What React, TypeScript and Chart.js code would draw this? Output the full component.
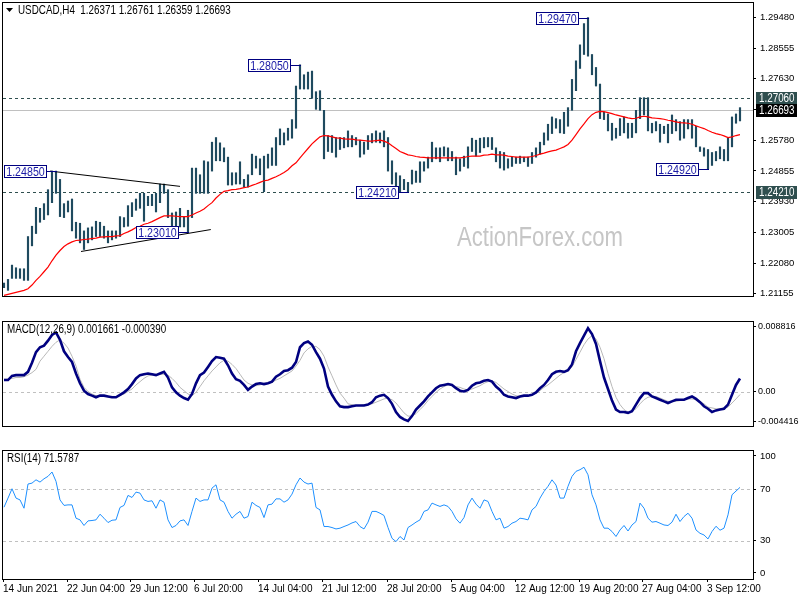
import React, { useEffect, useRef } from 'react';
import { Chart, registerables } from 'chart.js';
Chart.register(...registerables);

// ---------------- data (H4 bars grouped in pairs) ----------------
const highs = [
  1.2148, 1.2159, 1.2202, 1.2194, 1.2191, 1.2191, 1.2288, 1.2319, 1.2376, 1.2373,
  1.2387, 1.2429, 1.2485, 1.2485, 1.2460, 1.2387, 1.2395, 1.2401, 1.2331, 1.2328,
  1.2305, 1.2314, 1.2317, 1.2334, 1.2331, 1.2319, 1.2305, 1.2305, 1.2305, 1.2348,
  1.2345, 1.2381, 1.2390, 1.2401, 1.2418, 1.2418, 1.2409, 1.2415, 1.2418, 1.2446,
  1.2446, 1.2429, 1.2359, 1.2362, 1.2373, 1.2348, 1.2367, 1.2494, 1.2494, 1.2474,
  1.2516, 1.2513, 1.2572, 1.2586, 1.2570, 1.2555, 1.2527, 1.2480, 1.2480, 1.2513,
  1.2460, 1.2474, 1.2536, 1.2530, 1.2522, 1.2530, 1.2536, 1.2555, 1.2586, 1.2612,
  1.2600, 1.2614, 1.2640, 1.2741, 1.2805, 1.2775, 1.2783, 1.2786, 1.2724, 1.2727,
  1.2668, 1.2592, 1.2592, 1.2586, 1.2586, 1.2586, 1.2606, 1.2592, 1.2586, 1.2578,
  1.2572, 1.2592, 1.2598, 1.2606, 1.2600, 1.2606, 1.2586, 1.2516, 1.2480, 1.2471,
  1.2460, 1.2451, 1.2488, 1.2485, 1.2513, 1.2513, 1.2527, 1.2572, 1.2555, 1.2555,
  1.2558, 1.2555, 1.2544, 1.2527, 1.2522, 1.2530, 1.2558, 1.2584, 1.2578, 1.2584,
  1.2586, 1.2586, 1.2586, 1.2555, 1.2544, 1.2541, 1.2522, 1.2527, 1.2527, 1.2530,
  1.2527, 1.2527, 1.2541, 1.2555, 1.2572, 1.2600, 1.2626, 1.2648, 1.2643, 1.2640,
  1.2662, 1.2676, 1.2761, 1.2817, 1.2865, 1.2929, 1.2947, 1.2836, 1.2797, 1.2747,
  1.2662, 1.2657, 1.2629, 1.2614, 1.2643, 1.2648, 1.2629, 1.2629, 1.2668, 1.2706,
  1.2706, 1.2706, 1.2629, 1.2634, 1.2626, 1.2620, 1.2626, 1.2654, 1.2640, 1.2634,
  1.2640, 1.2640, 1.2640, 1.2620, 1.2558, 1.2555, 1.2550, 1.2541, 1.2544, 1.2558,
  1.2550, 1.2586, 1.2648, 1.2657, 1.2676,
];
const lows = [
  1.2134, 1.2126, 1.2162, 1.2162, 1.2162, 1.2156, 1.2156, 1.2260, 1.2297, 1.2331,
  1.2339, 1.2353, 1.2390, 1.2418, 1.2348, 1.2345, 1.2362, 1.2305, 1.2283, 1.2269,
  1.2249, 1.2269, 1.2278, 1.2288, 1.2288, 1.2283, 1.2269, 1.2278, 1.2283, 1.2288,
  1.2317, 1.2319, 1.2348, 1.2367, 1.2373, 1.2334, 1.2381, 1.2381, 1.2362, 1.2390,
  1.2418, 1.2345, 1.2297, 1.2319, 1.2317, 1.2317, 1.2301, 1.2345, 1.2418, 1.2418,
  1.2418, 1.2418, 1.2485, 1.2516, 1.2516, 1.2513, 1.2443, 1.2443, 1.2446, 1.2446,
  1.2437, 1.2437, 1.2474, 1.2494, 1.2474, 1.2423, 1.2494, 1.2502, 1.2502, 1.2564,
  1.2564, 1.2578, 1.2584, 1.2614, 1.2732, 1.2732, 1.2732, 1.2704, 1.2671, 1.2668,
  1.2522, 1.2544, 1.2541, 1.2527, 1.2550, 1.2555, 1.2558, 1.2558, 1.2564, 1.2527,
  1.2536, 1.2550, 1.2570, 1.2572, 1.2570, 1.2558, 1.2485, 1.2446, 1.2429, 1.2423,
  1.2429, 1.2421, 1.2446, 1.2451, 1.2451, 1.2485, 1.2494, 1.2513, 1.2522, 1.2513,
  1.2530, 1.2516, 1.2516, 1.2474, 1.2485, 1.2499, 1.2494, 1.2544, 1.2530, 1.2541,
  1.2555, 1.2558, 1.2550, 1.2513, 1.2494, 1.2488, 1.2494, 1.2499, 1.2508, 1.2508,
  1.2513, 1.2499, 1.2508, 1.2527, 1.2536, 1.2564, 1.2578, 1.2598, 1.2614, 1.2600,
  1.2598, 1.2620, 1.2668, 1.2727, 1.2794, 1.2836, 1.2831, 1.2775, 1.2741, 1.2643,
  1.2640, 1.2606, 1.2578, 1.2584, 1.2592, 1.2600, 1.2584, 1.2586, 1.2600, 1.2643,
  1.2654, 1.2606, 1.2600, 1.2606, 1.2572, 1.2598, 1.2570, 1.2598, 1.2606, 1.2578,
  1.2584, 1.2612, 1.2584, 1.2558, 1.2544, 1.2530, 1.2492, 1.2502, 1.2516, 1.2522,
  1.2516, 1.2516, 1.2558, 1.2629, 1.2636,
];
const movingAverage = [
  1.2111, 1.2114, 1.2117, 1.2120, 1.2123, 1.2126, 1.2131, 1.2142, 1.2156, 1.2168,
  1.2182, 1.2196, 1.2215, 1.2232, 1.2246, 1.2258, 1.2266, 1.2272, 1.2276, 1.2277,
  1.2279, 1.2280, 1.2282, 1.2283, 1.2286, 1.2287, 1.2288, 1.2288, 1.2290, 1.2291,
  1.2297, 1.2302, 1.2308, 1.2315, 1.2319, 1.2325, 1.2328, 1.2333, 1.2339, 1.2345,
  1.2350, 1.2350, 1.2350, 1.2349, 1.2348, 1.2348, 1.2348, 1.2353, 1.2359, 1.2364,
  1.2371, 1.2381, 1.2390, 1.2404, 1.2415, 1.2424, 1.2426, 1.2429, 1.2430, 1.2432,
  1.2435, 1.2437, 1.2442, 1.2446, 1.2451, 1.2456, 1.2458, 1.2463, 1.2468, 1.2474,
  1.2481, 1.2489, 1.2501, 1.2510, 1.2525, 1.2539, 1.2553, 1.2567, 1.2578, 1.2588,
  1.2592, 1.2591, 1.2588, 1.2585, 1.2584, 1.2582, 1.2581, 1.2581, 1.2579, 1.2578,
  1.2577, 1.2575, 1.2575, 1.2577, 1.2578, 1.2575, 1.2570, 1.2561, 1.2553, 1.2544,
  1.2539, 1.2534, 1.2532, 1.2529, 1.2527, 1.2526, 1.2525, 1.2525, 1.2525, 1.2525,
  1.2525, 1.2525, 1.2525, 1.2525, 1.2525, 1.2526, 1.2529, 1.2530, 1.2530, 1.2530,
  1.2533, 1.2534, 1.2536, 1.2534, 1.2534, 1.2533, 1.2530, 1.2529, 1.2527, 1.2527,
  1.2527, 1.2527, 1.2529, 1.2532, 1.2536, 1.2539, 1.2543, 1.2546, 1.2548, 1.2553,
  1.2558, 1.2565, 1.2578, 1.2595, 1.2612, 1.2627, 1.2643, 1.2655, 1.2662, 1.2665,
  1.2664, 1.2661, 1.2658, 1.2654, 1.2651, 1.2648, 1.2645, 1.2643, 1.2644, 1.2648,
  1.2650, 1.2648, 1.2645, 1.2644, 1.2643, 1.2641, 1.2638, 1.2636, 1.2633, 1.2631,
  1.2630, 1.2629, 1.2626, 1.2621, 1.2617, 1.2613, 1.2607, 1.2602, 1.2598, 1.2595,
  1.2591, 1.2586, 1.2588, 1.2592, 1.2595,
];
const macdMain = [
  0.00147, 0.00147, 0.00200, 0.00210, 0.00210, 0.00210, 0.00252, 0.00368, 0.00504, 0.00567,
  0.00588, 0.00651, 0.00725, 0.00756, 0.00662, 0.00515, 0.00441, 0.00378, 0.00231, 0.00105,
  0.00011, -0.00032, -0.00053, -0.00074, -0.00053, -0.00053, -0.00063, -0.00074, -0.00074, -0.00042,
  -0.00011, 0.00032, 0.00095, 0.00168, 0.00210, 0.00221, 0.00231, 0.00221, 0.00210, 0.00231,
  0.00252, 0.00179, 0.00053, -0.00011, -0.00053, -0.00084, -0.00105, -0.00032, 0.00105, 0.00210,
  0.00242, 0.00315, 0.00389, 0.00441, 0.00431, 0.00420, 0.00336, 0.00231, 0.00158, 0.00137,
  0.00084, 0.00021, 0.00063, 0.00095, 0.00105, 0.00095, 0.00105, 0.00126, 0.00189, 0.00221,
  0.00263, 0.00273, 0.00305, 0.00378, 0.00567, 0.00620, 0.00641, 0.00599, 0.00504, 0.00420,
  0.00294, 0.00063, -0.00042, -0.00126, -0.00189, -0.00200, -0.00200, -0.00189, -0.00179, -0.00179,
  -0.00179, -0.00168, -0.00137, -0.00074, -0.00053, -0.00042, -0.00084, -0.00158, -0.00263, -0.00326,
  -0.00357, -0.00378, -0.00315, -0.00231, -0.00179, -0.00126, -0.00063, -0.00011, 0.00042, 0.00074,
  0.00084, 0.00095, 0.00084, 0.00042, 0.00011, 0.00000, 0.00021, 0.00074, 0.00105, 0.00116,
  0.00137, 0.00147, 0.00126, 0.00063, 0.00021, -0.00042, -0.00063, -0.00074, -0.00084, -0.00063,
  -0.00053, -0.00053, -0.00042, -0.00011, 0.00042, 0.00084, 0.00147, 0.00221, 0.00252, 0.00263,
  0.00252, 0.00273, 0.00347, 0.00515, 0.00620, 0.00714, 0.00810, 0.00735, 0.00609, 0.00389,
  0.00179, 0.00032, -0.00116, -0.00231, -0.00263, -0.00263, -0.00273, -0.00252, -0.00168, -0.00084,
  -0.00021, -0.00021, -0.00063, -0.00084, -0.00105, -0.00126, -0.00147, -0.00126, -0.00105, -0.00105,
  -0.00105, -0.00084, -0.00063, -0.00095, -0.00137, -0.00189, -0.00221, -0.00263, -0.00242, -0.00231,
  -0.00221, -0.00168, -0.00042, 0.00084, 0.00166,
];
const macdSignal = [
  0.00158, 0.00158, 0.00168, 0.00179, 0.00179, 0.00189, 0.00210, 0.00242, 0.00284, 0.00389,
  0.00452, 0.00515, 0.00578, 0.00630, 0.00662, 0.00620, 0.00557, 0.00452, 0.00326, 0.00158,
  0.00053, 0.00000, -0.00032, -0.00053, -0.00053, -0.00063, -0.00063, -0.00063, -0.00063, -0.00053,
  -0.00032, 0.00000, 0.00032, 0.00084, 0.00126, 0.00168, 0.00200, 0.00210, 0.00221, 0.00221,
  0.00221, 0.00210, 0.00168, 0.00116, 0.00053, 0.00011, -0.00032, -0.00053, -0.00011, 0.00063,
  0.00137, 0.00200, 0.00263, 0.00315, 0.00368, 0.00399, 0.00389, 0.00347, 0.00294, 0.00221,
  0.00147, 0.00105, 0.00084, 0.00074, 0.00084, 0.00105, 0.00105, 0.00116, 0.00147, 0.00168,
  0.00200, 0.00231, 0.00263, 0.00326, 0.00399, 0.00494, 0.00546, 0.00578, 0.00578, 0.00536,
  0.00452, 0.00315, 0.00200, 0.00084, -0.00021, -0.00084, -0.00158, -0.00168, -0.00179, -0.00179,
  -0.00168, -0.00168, -0.00158, -0.00137, -0.00116, -0.00095, -0.00084, -0.00105, -0.00147, -0.00210,
  -0.00273, -0.00315, -0.00315, -0.00284, -0.00231, -0.00179, -0.00116, -0.00063, -0.00011, 0.00032,
  0.00063, 0.00084, 0.00084, 0.00063, 0.00053, 0.00032, 0.00021, 0.00032, 0.00053, 0.00074,
  0.00105, 0.00126, 0.00137, 0.00116, 0.00074, 0.00032, 0.00000, -0.00032, -0.00053, -0.00063,
  -0.00063, -0.00053, -0.00042, -0.00021, 0.00011, 0.00053, 0.00084, 0.00126, 0.00168, 0.00210,
  0.00242, 0.00263, 0.00315, 0.00410, 0.00504, 0.00599, 0.00672, 0.00714, 0.00672, 0.00567,
  0.00420, 0.00231, 0.00063, -0.00074, -0.00168, -0.00231, -0.00263, -0.00252, -0.00221, -0.00158,
  -0.00105, -0.00074, -0.00063, -0.00063, -0.00084, -0.00105, -0.00126, -0.00126, -0.00126, -0.00116,
  -0.00105, -0.00095, -0.00095, -0.00105, -0.00126, -0.00158, -0.00200, -0.00210, -0.00221, -0.00221,
  -0.00210, -0.00200, -0.00147, -0.00095, -0.00039,
];
const rsiValues = [
  56.1, 63.2, 70.5, 63.2, 61.8, 55.3, 74.2, 74.9, 77.5, 75.7,
  78.3, 80.2, 83.6, 76.3, 61.8, 57.5, 57.9, 57.9, 47.5, 46.2,
  41.8, 45.4, 45.7, 46.2, 50.6, 47.5, 44.1, 45.9, 46.2, 55.9,
  57.5, 65.3, 63.7, 67.9, 67.1, 61.8, 60.6, 61.1, 55.3, 61.8,
  60.0, 46.2, 40.2, 41.8, 45.4, 46.2, 41.8, 52.8, 63.2, 60.6,
  61.8, 61.8, 71.0, 73.6, 61.8, 60.0, 52.8, 47.5, 50.6, 52.8,
  47.5, 48.8, 60.0, 57.5, 55.9, 48.0, 57.9, 58.5, 62.6, 62.6,
  60.0, 61.8, 66.3, 73.6, 78.9, 75.7, 74.2, 74.9, 55.9, 54.0,
  41.0, 41.0, 40.2, 39.1, 39.7, 41.0, 42.2, 43.8, 44.9, 41.0,
  39.1, 44.4, 52.8, 52.8, 51.4, 49.6, 40.2, 31.8, 29.2, 33.2,
  30.5, 40.2, 42.2, 44.4, 46.2, 52.8, 54.0, 59.3, 57.9, 56.7,
  57.9, 56.7, 52.8, 47.0, 43.6, 48.0, 57.9, 63.2, 58.5, 55.3,
  61.8, 60.6, 52.8, 46.2, 47.5, 39.7, 41.0, 43.6, 44.9, 47.5,
  47.0, 46.2, 54.0, 56.7, 63.2, 68.4, 72.4, 77.5, 73.4, 63.2,
  63.2, 72.4, 80.2, 84.1, 85.4, 87.3, 81.4, 65.8, 57.9, 46.2,
  39.7, 39.7, 37.1, 33.2, 38.3, 41.8, 37.5, 42.2, 44.9, 59.3,
  55.3, 47.5, 44.4, 44.9, 43.6, 42.2, 41.8, 44.4, 50.6, 44.9,
  48.8, 51.4, 47.5, 38.3, 35.7, 34.4, 31.3, 37.1, 41.2, 38.1,
  39.7, 50.1, 65.8, 68.7, 71.58,
];

// time axis labels (positions in bar-index units)
const dateTickIndex = [-0.25, 15.75, 31.5, 47.5, 63.5, 79.5, 95.75, 111.75, 127.75, 143.75, 159.5, 175.75];
const dateTickLabels = ['14 Jun 2021', '22 Jun 04:00', '29 Jun 12:00', '6 Jul 20:00', '14 Jul 04:00', '21 Jul 12:00',
  '28 Jul 20:00', '5 Aug 04:00', '12 Aug 12:00', '19 Aug 20:00', '27 Aug 04:00', '3 Sep 12:00'];

// price axis
const priceTicks = [1.21155, 1.2208, 1.23005, 1.2393, 1.24855, 1.2578, 1.26705, 1.2763, 1.28555, 1.2948];
const dashedLevels = [1.2706, 1.2421];
const lastPrice = 1.26693;
const axisMarkValues = [1.2706, 1.26693, 1.2421];
const axisMarkLabels = ['1.27060', '1.26693', '1.24210'];
const axisMarkColors = ['#2f4f4f', '#000000', '#2f4f4f'];

// swing high/low labels
const swingIndex = [13, 46, 74, 101, 146, 176];
const swingPrice = [1.2485, 1.2301, 1.2805, 1.2421, 1.2947, 1.2492];
const swingLabels = ['1.24850', '1.23010', '1.28050', '1.24210', '1.29470', '1.24920'];

// triangle trend lines
const trendUpperIndex = [11.5, 44];
const trendUpperPrice = [1.2485, 1.2439];
const trendLowerIndex = [19.25, 51.7];
const trendLowerPrice = [1.2243, 1.2309];

// indicator axes
const macdTickValues = [0.00837, 0, -0.00378];
const macdTickLabels = ['0.008816', '0.00', '-0.004416'];
const rsiTickValues = [96.1, 70, 30, 4.7];
const rsiTickLabels = ['100', '70', '30', '0'];
const rsiLevels = [70, 30];

const TITLE = 'USDCAD,H4  1.26371 1.26761 1.26359 1.26693';
const MACD_TITLE = 'MACD(12,26,9) 0.001661 -0.000390';
const RSI_TITLE = 'RSI(14) 71.5787';
const WATERMARK = 'ActionForex.com';

// ---------------- styling ----------------
const FONT = "'Liberation Sans', Arial, sans-serif";
const xTickFont = { family: FONT, size: 10 };
const BAR_COLOR = '#1f4a5f';
const NARROW = 0.82;

const X_MIN = -0.25;
const X_MAX = 187.25;

function narrowText(ctx: any, text: string, x: number, y: number, size: number, align: string, color: string) {
  ctx.save();
  ctx.translate(x, y);
  ctx.scale(NARROW, 1);
  ctx.font = `${size}px ${FONT}`;
  ctx.textAlign = align;
  ctx.textBaseline = 'middle';
  ctx.fillStyle = color;
  ctx.fillText(text, 0, 0);
  ctx.restore();
}

function makeX(show: boolean): any {
  return {
    type: 'linear',
    min: X_MIN,
    max: X_MAX,
    offset: false,
    bounds: 'data',
    display: show,
    afterBuildTicks: (s: any) => { s.ticks = dateTickIndex.map((v) => ({ value: v })); },
    ticks: {
      autoSkip: false, maxRotation: 0, minRotation: 0, align: 'start', padding: 1,
      color: '#000', font: xTickFont,
      callback: (_v: any, i: number) => dateTickLabels[i],
    },
    grid: { display: show, drawOnChartArea: false, drawTicks: true, tickLength: 3, color: '#000', offset: false },
    border: { display: false },
    afterFit: (s: any) => { s.height = 21; s.paddingLeft = 0; s.paddingRight = 0; },
  };
}

function makeY(min: number, max: number, values: number[], label: (v: number, i: number) => string, size: number, pad: number): any {
  return {
    type: 'linear',
    position: 'right',
    min, max,
    bounds: 'data',
    afterBuildTicks: (s: any) => { s.ticks = values.map((v) => ({ value: v })); },
    ticks: { autoSkip: false, padding: pad, color: '#000', font: { family: FONT, size }, callback: (v: any, i: number) => label(v, i) },
    grid: { drawOnChartArea: false, drawTicks: true, tickLength: 3, color: '#000' },
    border: { display: false },
    afterFit: (s: any) => { s.width = 47; s.paddingTop = 0; s.paddingBottom = 0; },
  };
}

function drawFrame(chart: any) {
  const { ctx, chartArea: a } = chart;
  ctx.save();
  ctx.strokeStyle = '#000';
  ctx.lineWidth = 1;
  ctx.strokeRect(a.left - 0.5, a.top - 0.5, a.right - a.left + 1, a.bottom - a.top + 1);
  ctx.restore();
}

function hLine(ctx: any, a: any, y: number, color: string, dash: number[]) {
  const yy = Math.round(y) + 0.5;
  ctx.save();
  ctx.strokeStyle = color;
  ctx.lineWidth = 1;
  ctx.setLineDash(dash);
  ctx.beginPath();
  ctx.moveTo(a.left, yy);
  ctx.lineTo(a.right, yy);
  ctx.stroke();
  ctx.restore();
}

const commonOpts: any = {
  animation: false,
  responsive: false,
  maintainAspectRatio: false,
  events: [],
  plugins: { legend: { display: false }, tooltip: { enabled: false } },
};

const mainPlugin = {
  id: 'mainDecor',
  beforeDatasetsDraw(chart: any) {
    const { ctx, chartArea: a, scales } = chart;
    ctx.save();
    ctx.beginPath();
    ctx.rect(a.left, a.top, a.right - a.left, a.bottom - a.top);
    ctx.clip();
    narrowText(ctx, WATERMARK, a.left + (a.right - a.left) * 0.716, a.top + (a.bottom - a.top) * 0.803, 27, 'center', '#c6c6c6');
    ctx.restore();
    hLine(ctx, a, scales.y.getPixelForValue(lastPrice), '#c0c0c0', []);
    dashedLevels.forEach((lv) => hLine(ctx, a, scales.y.getPixelForValue(lv), '#2f4f4f', [3, 3]));
  },
  afterDatasetsDraw(chart: any) {
    const { ctx, scales } = chart;
    ctx.save();
    swingIndex.forEach((idx, k) => {
      const bx = Math.round(scales.x.getPixelForValue(idx));
      const by = Math.round(scales.y.getPixelForValue(swingPrice[k]));
      const w = 43;
      const h = 13;
      const right = bx - 9;
      const left = right - w;
      const top = by - 6;
      ctx.fillStyle = '#ffffff';
      ctx.fillRect(left, top, w, h);
      ctx.strokeStyle = '#000080';
      ctx.lineWidth = 1;
      ctx.strokeRect(left + 0.5, top + 0.5, w - 1, h - 1);
      ctx.beginPath();
      ctx.moveTo(right, by + 0.5);
      ctx.lineTo(bx + 1, by + 0.5);
      ctx.stroke();
      narrowText(ctx, swingLabels[k], left + w / 2, top + h / 2 + 0.5, 13, 'center', '#1a1aa6');
    });
    // title
    narrowText(ctx, TITLE, 18, 10.5, 12, 'left', '#000');
    ctx.fillStyle = '#000';
    ctx.beginPath();
    ctx.moveTo(6, 8);
    ctx.lineTo(13, 8);
    ctx.lineTo(9.5, 12);
    ctx.closePath();
    ctx.fill();
    ctx.restore();
  },
  afterDraw(chart: any) {
    drawFrame(chart);
    const { ctx, chartArea: a, scales } = chart;
    ctx.save();
    axisMarkValues.forEach((v, k) => {
      const y = Math.round(scales.y.getPixelForValue(v));
      ctx.fillStyle = axisMarkColors[k];
      ctx.fillRect(a.right + 3, y - 6, 41, 13);
      narrowText(ctx, axisMarkLabels[k], a.right + 6, y + 1, 12, 'left', '#ffffff');
    });
    ctx.restore();
  },
};

const macdPlugin = {
  id: 'macdDecor',
  beforeDatasetsDraw(chart: any) {
    const { ctx, chartArea: a, scales } = chart;
    hLine(ctx, a, scales.y.getPixelForValue(0), '#c0c0c0', [3, 3]);
  },
  afterDatasetsDraw(chart: any) {
    narrowText(chart.ctx, MACD_TITLE, 7, 11, 12, 'left', '#000');
  },
  afterDraw(chart: any) { drawFrame(chart); },
};

const rsiPlugin = {
  id: 'rsiDecor',
  beforeDatasetsDraw(chart: any) {
    const { ctx, chartArea: a, scales } = chart;
    rsiLevels.forEach((lv) => hLine(ctx, a, scales.y.getPixelForValue(lv), '#c0c0c0', [3, 3]));
  },
  afterDatasetsDraw(chart: any) {
    narrowText(chart.ctx, RSI_TITLE, 7, 11, 12, 'left', '#000');
  },
  afterDraw(chart: any) { drawFrame(chart); },
};

export default function App() {
  const mainRef = useRef<HTMLCanvasElement | null>(null);
  const macdRef = useRef<HTMLCanvasElement | null>(null);
  const rsiRef = useRef<HTMLCanvasElement | null>(null);

  useEffect(() => {
    Chart.defaults.font.family = FONT;
    Chart.defaults.font.size = 10;

    const mainChart = new Chart(mainRef.current as HTMLCanvasElement, {
      type: 'bar',
      data: {
        datasets: [
          {
            type: 'line',
            data: movingAverage.map((v, i) => ({ x: i, y: v })),
            borderColor: '#ff0000',
            borderWidth: 1.2,
            pointRadius: 0,
            tension: 0,
            order: 0,
          } as any,
          {
            type: 'line',
            data: trendUpperIndex.map((x, i) => ({ x, y: trendUpperPrice[i] })),
            borderColor: '#000000',
            borderWidth: 1,
            pointRadius: 0,
            order: 0,
          } as any,
          {
            type: 'line',
            data: trendLowerIndex.map((x, i) => ({ x, y: trendLowerPrice[i] })),
            borderColor: '#000000',
            borderWidth: 1,
            pointRadius: 0,
            order: 0,
          } as any,
          {
            type: 'bar',
            data: highs.map((h, i) => ({ x: i, y: [lows[i], h] })),
            backgroundColor: BAR_COLOR,
            borderWidth: 0,
            barThickness: 1.5,
            grouped: false,
            order: 1,
          } as any,
        ],
      },
      options: {
        ...commonOpts,
        layout: { padding: { left: 3, top: 3, bottom: 2, right: 0 } },
        scales: {
          x: makeX(false),
          y: makeY(1.2109, 1.2991, priceTicks, (v) => Number(v).toFixed(5), 9.5, 4),
        },
      },
      plugins: [mainPlugin],
    } as any);

    const macdChart = new Chart(macdRef.current as HTMLCanvasElement, {
      type: 'line',
      data: {
        datasets: [
          {
            data: macdMain.map((v, i) => ({ x: i, y: v })),
            borderColor: '#000080',
            borderWidth: 2.6,
            pointRadius: 0,
            tension: 0,
            order: 0,
          },
          {
            data: macdSignal.map((v, i) => ({ x: i, y: v })),
            borderColor: '#b8b8b8',
            borderWidth: 1,
            pointRadius: 0,
            tension: 0,
            order: 1,
          },
        ],
      },
      options: {
        ...commonOpts,
        layout: { padding: { left: 3, top: 3, bottom: 1, right: 0 } },
        scales: {
          x: makeX(false),
          y: makeY(-0.004416, 0.0089, macdTickValues, (_v, i) => macdTickLabels[i], 9, 2),
        },
      },
      plugins: [macdPlugin],
    } as any);

    const rsiChart = new Chart(rsiRef.current as HTMLCanvasElement, {
      type: 'line',
      data: {
        datasets: [
          {
            data: rsiValues.map((v, i) => ({ x: i, y: v })),
            borderColor: '#1e90ff',
            borderWidth: 1,
            pointRadius: 0,
            tension: 0,
          },
        ],
      },
      options: {
        ...commonOpts,
        layout: { padding: { left: 3, top: 3, bottom: 0, right: 0 } },
        scales: {
          x: makeX(true),
          y: makeY(0, 100, rsiTickValues, (_v, i) => rsiTickLabels[i], 9.5, 4),
        },
      },
      plugins: [rsiPlugin],
    } as any);

    return () => {
      mainChart.destroy();
      macdChart.destroy();
      rsiChart.destroy();
    };
  }, []);

  return (
    <div style={{ position: 'absolute', left: 0, top: 0, width: 800, height: 600, background: '#ffffff' }}>
      <canvas ref={mainRef} width={800} height={319} style={{ position: 'absolute', left: 0, top: 0 }} />
      <canvas ref={macdRef} width={800} height={129} style={{ position: 'absolute', left: 0, top: 319 }} />
      <canvas ref={rsiRef} width={800} height={152} style={{ position: 'absolute', left: 0, top: 448 }} />
    </div>
  );
}
